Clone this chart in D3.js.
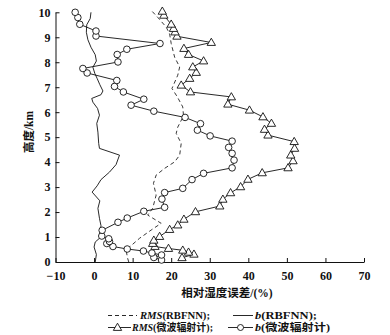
<!DOCTYPE html>
<html><head><meta charset="utf-8">
<script src="https://cdn.jsdelivr.net/npm/d3@7"></script>
<style>
html,body{margin:0;padding:0;background:#fff;}
svg{display:block;}
text{fill:#111;}
</style></head>
<body>
<svg id="chart" width="390" height="335"></svg>
<script>
// ---- data (value %, height km) ----
const xTicks = [-10, 0, 10, 20, 30, 40, 50, 60, 70];
const yTicks = [0, 1, 2, 3, 4, 5, 6, 7, 8, 9, 10];

// RMS (RBFNN) dashed
const rmsRbfH = [0.0,0.15,0.48,0.95,1.3,1.55,1.88,2.15,2.68,3.15,3.48,3.75,4.01,4.28,4.75,5.15,5.4,5.85,6.21,6.61,6.95,7.48,7.81,8.2,8.75,9.13,9.41,9.8,10.08];
const rmsRbfV = [9.0,8.7,8.3,11.8,15.0,17.4,13.9,15.2,16.1,15.4,16.1,18.3,20.9,22.2,22.6,21.3,21.7,23.2,23.0,21.6,20.2,21.7,22.2,20.9,20.0,19.6,18.7,16.5,14.8];

// b (RBFNN) solid
const bRbfH = [0.0,0.3,0.6,0.8,0.95,1.2,1.45,1.75,2.15,2.45,2.8,3.05,3.3,3.6,3.9,4.28,4.55,4.75,5.2,5.55,5.88,6.15,6.4,6.55,6.7,6.85,7.1,7.35,7.55,7.8,8.05,8.3,8.6,8.9,9.2,9.5,9.75,10.0];
const bRbfV = [0.3,0.6,0.0,0.3,1.4,1.5,1.8,1.4,1.0,1.5,-0.5,0.8,1.8,4.0,5.7,6.6,1.4,1.2,1.0,0.7,1.4,0.9,-0.3,-0.6,1.8,2.3,1.5,0.8,0.2,-0.3,0.6,0.3,-0.8,-1.6,-2.0,-1.9,-1.0,-0.8];

// RMS (微波辐射计) triangles
const rmsMwrH = [0.17,0.31,0.39,0.47,0.54,0.62,0.74,0.87,1.02,1.30,1.48,1.71,2.01,2.24,2.51,2.77,3.01,3.31,3.57,3.77,4.05,4.28,4.55,4.82,5.08,5.31,5.55,5.81,6.08,6.32,6.61,6.81,7.08,7.35,7.59,7.81,8.05,8.31,8.55,8.79,9.04,9.21,9.35,9.52,9.88,10.04];
const rmsMwrV = [22.8,25.9,24.5,23.0,19.3,15.8,15.2,15.5,17.0,19.6,21.7,23.3,26.3,32.6,33.4,35.4,38.0,39.9,43.6,50.3,51.6,51.0,52.0,51.9,45.1,44.2,46.0,43.8,40.3,34.7,35.6,25.0,22.6,24.8,26.5,25.6,28.4,24.5,23.3,30.4,21.5,21.0,20.6,20.0,18.1,17.7];

// b (微波辐射计) circles
const bMwrH = [0.08,0.18,0.28,0.36,0.44,0.52,0.62,0.74,0.82,0.93,1.04,1.27,1.59,1.76,2.03,2.19,2.52,2.78,2.95,3.30,3.55,3.77,4.08,4.35,4.59,4.84,5.05,5.28,5.54,5.79,6.04,6.28,6.52,6.81,7.03,7.27,7.57,7.75,8.01,8.31,8.52,8.75,9.05,9.25,9.52,9.79,10.0];
const bMwrV = [17.5,15.5,17.5,15.0,12.8,8.6,4.9,3.3,4.0,3.8,2.0,2.1,6.2,8.6,12.9,18.3,17.6,18.3,23.0,25.4,28.4,35.8,36.3,35.8,34.9,35.8,30.1,26.8,27.6,23.6,15.5,9.6,12.9,7.6,5.3,5.9,-1.8,-2.9,6.2,6.0,8.5,17.1,0.5,0.5,-3.7,-4.2,-4.9];

const legendLabels = [
  {pre:"RMS", post:"(RBFNN);"},
  {pre:"b", post:"(RBFNN);"},
  {pre:"RMS", post:"(微波辐射计);"},
  {pre:"b", post:"(微波辐射计)"}
];
const xTitle = "相对湿度误差/(%)";
const yTitle = "高度/km";

// ---- drawing ----
const svg = d3.select("#chart");
const FONT = "'Liberation Serif','Noto Sans CJK SC',serif";
const x = d3.scaleLinear().domain([-10, 70]).range([55.5, 364]);
const y = d3.scaleLinear().domain([0, 10]).range([262, 12.3]);

const zip = (vs, hs) => vs.map((v, i) => ({v, h: hs[i]}));
const line = d3.line().x(d => x(d.v)).y(d => y(d.h));

// axes
const gx = svg.append("g").attr("transform", `translate(0,${y(0)})`)
  .call(d3.axisBottom(x).tickValues(xTicks).tickSize(-4).tickSizeOuter(0).tickPadding(9).tickFormat(d3.format("d")));
const gy = svg.append("g").attr("transform", `translate(${x(-10)},0)`)
  .call(d3.axisLeft(y).tickValues(yTicks).tickSize(-4).tickSizeOuter(0).tickPadding(5).tickFormat(d3.format("d")));
[gx, gy].forEach(g => {
  g.select(".domain").attr("stroke", "#111").attr("stroke-width", 1);
  g.selectAll(".tick line").attr("stroke", "#111").attr("stroke-width", 1);
  g.selectAll(".tick text").attr("font-family", FONT).attr("font-weight", "bold")
    .attr("font-size", 12).attr("fill", "#111");
});

// lines
svg.append("path").datum(zip(rmsRbfV, rmsRbfH)).attr("d", line)
  .attr("fill", "none").attr("stroke", "#222").attr("stroke-width", 0.9).attr("stroke-dasharray", "4,3");
svg.append("path").datum(zip(bRbfV, bRbfH)).attr("d", line)
  .attr("fill", "none").attr("stroke", "#111").attr("stroke-width", 0.9);
svg.append("path").datum(zip(rmsMwrV, rmsMwrH)).attr("d", line)
  .attr("fill", "none").attr("stroke", "#111").attr("stroke-width", 0.9);
svg.append("path").datum(zip(bMwrV, bMwrH)).attr("d", line)
  .attr("fill", "none").attr("stroke", "#111").attr("stroke-width", 0.9);

const tri = d3.symbol().type(d3.symbolTriangle).size(30);
const triPath = tri();
svg.append("g").selectAll("path").data(zip(rmsMwrV, rmsMwrH)).join("path")
  .attr("d", triPath).attr("transform", d => `translate(${x(d.v)},${y(d.h) + 0.5})`)
  .attr("fill", "#fff").attr("stroke", "#111").attr("stroke-width", 0.9);
svg.append("g").selectAll("circle").data(zip(bMwrV, bMwrH)).join("circle")
  .attr("cx", d => x(d.v)).attr("cy", d => y(d.h)).attr("r", 3.3)
  .attr("fill", "#fff").attr("stroke", "#111").attr("stroke-width", 0.9);

// titles
svg.append("text").attr("x", 227).attr("y", 297).attr("text-anchor", "middle")
  .attr("font-family", FONT).attr("font-weight", "bold").attr("font-size", 11.5).text(xTitle);
svg.append("text").attr("transform", "translate(33,132) rotate(-90)").attr("text-anchor", "middle")
  .attr("font-family", FONT).attr("font-weight", "bold").attr("font-size", 11.5).text(yTitle);

// legend
const leg = [
  {x1: 108, x2: 137, tx: 140, tw: 70, y: 319, type: "dash"},
  {x1: 233, x2: 253, tx: 255, tw: 62, y: 319, type: "solid"},
  {x1: 108, x2: 131, tx: 132, tw: 81, y: 331, type: "tri"},
  {x1: 228, x2: 253, tx: 255, tw: 75, y: 331, type: "circ"}
];
leg.forEach((L, i) => {
  const ly = L.y - 3.5;
  const g = svg.append("g");
  g.append("line").attr("x1", L.x1).attr("x2", L.x2).attr("y1", ly).attr("y2", ly)
    .attr("stroke", "#111").attr("stroke-width", 0.9)
    .attr("stroke-dasharray", L.type === "dash" ? "4,3" : null);
  const mx = (L.x1 + L.x2) / 2;
  if (L.type === "tri") g.append("path").attr("d", triPath).attr("transform", `translate(${mx - 2},${ly + 0.5})`)
    .attr("fill", "#fff").attr("stroke", "#111").attr("stroke-width", 0.9);
  if (L.type === "circ") g.append("circle").attr("cx", mx).attr("cy", ly).attr("r", 3)
    .attr("fill", "#fff").attr("stroke", "#111").attr("stroke-width", 0.9);
  const t = g.append("text").attr("x", L.tx).attr("y", L.y)
    .attr("font-family", FONT).attr("font-weight", "bold").attr("font-size", 10.5)
    .attr("textLength", L.tw).attr("lengthAdjust", "spacingAndGlyphs");
  t.append("tspan").attr("font-style", "italic").text(legendLabels[i].pre);
  t.append("tspan").text(legendLabels[i].post);
});
</script>
</body></html>
